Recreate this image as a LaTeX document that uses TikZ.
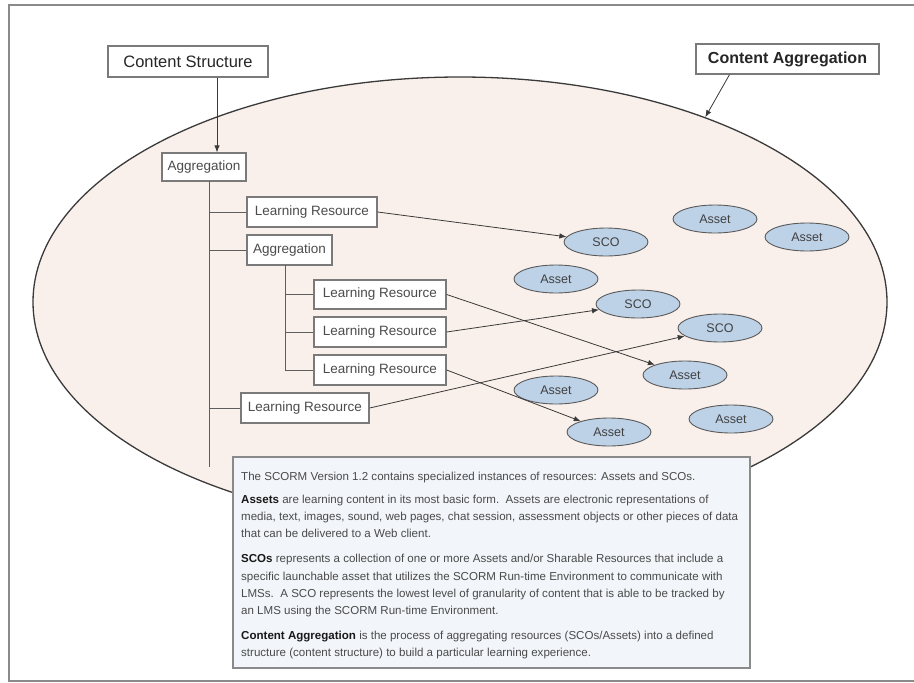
\documentclass[tikz,border=0pt]{standalone}
\usepackage{fontspec}
\setmainfont{Liberation Sans}
\usetikzlibrary{shapes.geometric,arrows.meta}
\definecolor{framegray}{HTML}{8A8A8A}
\definecolor{blobfill}{HTML}{FAF0EB}
\definecolor{blobline}{HTML}{3A3A3A}
\definecolor{assetfill}{HTML}{BDD1E7}
\definecolor{assetline}{HTML}{5A5A5A}
\definecolor{boxline}{HTML}{7A7A7A}
\definecolor{treeline}{HTML}{5E5E5E}
\definecolor{notefill}{HTML}{F2F5F9}
\definecolor{notetext}{HTML}{4A4A4A}
\tikzset{
  hdr/.style={draw=boxline, line width=1.3pt, fill=white, inner sep=0pt, text=black!85,
    font=\fontsize{16.5}{18}\selectfont},
  itembox/.style={draw=boxline, line width=1.3pt, fill=white, inner sep=0pt, text=black!70,
    minimum height=30pt, font=\fontsize{13.5}{15}\selectfont},
  blob/.style={ellipse, draw=assetline, line width=0.9pt, fill=assetfill, inner sep=0pt,
    minimum width=84pt, minimum height=28pt, text=black!75, font=\fontsize{12.5}{14}\selectfont},
  tree/.style={draw=treeline, line width=1pt},
  link/.style={draw=blobline, line width=0.8pt, -{Latex[length=7pt,width=5.5pt]}},
}
\begin{document}
\begin{tikzpicture}[x=1pt,y=-1pt]
\useasboundingbox (0,0) rectangle (914,683);
% frame
\draw[framegray, line width=2pt] (914,5) -- (9,5) -- (9,681) -- (914,681);
% big content aggregation ellipse
\node[ellipse, draw=blobline, line width=1.3pt, fill=blobfill, inner sep=0pt,
      minimum width=854pt, minimum height=450pt] (cagg) at (460,302) {};
% header boxes
\node[hdr, minimum width=160pt, minimum height=31pt] (cs) at (188,61.5) {Content Structure};
\node[hdr, minimum width=183pt, minimum height=30pt, font=\fontsize{16}{18}\selectfont\bfseries] (cabox) at (787.5,59) {Content Aggregation};
% structure boxes
\node[itembox, minimum width=84pt, minimum height=28pt] (agg) at (204,167) {Aggregation};
\node[itembox, minimum width=130pt] (lr1) at (312,212) {Learning Resource};
\node[itembox, minimum width=85pt] (agg2) at (289.5,250) {Aggregation};
\node[itembox, minimum width=132pt, minimum height=29pt] (lr2a) at (380,294.5) {Learning Resource};
\node[itembox, minimum width=132pt] (lr2b) at (380,332) {Learning Resource};
\node[itembox, minimum width=132pt] (lr2c) at (380,370) {Learning Resource};
\node[itembox, minimum width=128pt] (lr3) at (305,408) {Learning Resource};
% tree lines
\coordinate (tr) at (209,181);
\coordinate (trend) at (209,467);
\coordinate (st) at (285,265);
\draw[tree] (tr) -- (trend);
\draw[tree] (tr |- lr1.west) -- (lr1.west);
\draw[tree] (tr |- agg2.west) -- (agg2.west);
\draw[tree] (tr |- lr3.west) -- (lr3.west);
\draw[tree] (st) |- (lr2c.west);
\draw[tree] (st |- lr2a.west) -- (lr2a.west);
\draw[tree] (st |- lr2b.west) -- (lr2b.west);
% resource ellipses
\node[blob] (a1) at (715,219) {Asset};
\node[blob] (a2) at (807,237) {Asset};
\node[blob] (sco1) at (606,242) {SCO};
\node[blob] (a3) at (556,279) {Asset};
\node[blob] (sco2) at (638,304) {SCO};
\node[blob] (sco3) at (720,328) {SCO};
\node[blob] (a4) at (685,375) {Asset};
\node[blob] (a5) at (556,390) {Asset};
\node[blob] (a6) at (731,419) {Asset};
\node[blob] (a7) at (609,432) {Asset};
% header arrows
\draw[link] ([xshift=29pt]cs.south) -- ([xshift=13pt]agg.north);
\draw[link] ([xshift=-58pt]cabox.south) -- (cagg.37);
% resource links
\draw[link] (lr1.east) -- (sco1);
\draw[link] (lr2a.east) -- (a4);
\draw[link] (lr2b.east) -- (sco2);
\draw[link] (lr2c.east) -- (a7);
\draw[link] (lr3.east) -- (sco3);
% note box
\node[draw=framegray, line width=1.5pt, fill=notefill, minimum width=517pt, minimum height=211pt,
      inner sep=0pt] (note) at (491.5,562.5) {};
\node[anchor=north west, inner sep=0pt, align=left, text=notetext,
      font=\fontsize{11.55}{17.2}\selectfont] (notetxt) at (241,471.5)
{The SCORM Version 1.2 contains specialized instances of resources: Assets and SCOs.\\[6.3pt]
\textcolor{black!90}{\textbf{Assets}} are learning content in its most basic form.\ \ Assets are electronic representations of\\
media, text, images, sound, web pages, chat session, assessment objects or other pieces of data\\
that can be delivered to a Web client.\\[7.8pt]
\textcolor{black!90}{\textbf{SCOs}} represents a collection of one or more Assets and/or Sharable Resources that include a\\
specific launchable asset that utilizes the SCORM Run-time Environment to communicate with\\
LMSs.\ \ A SCO represents the lowest level of granularity of content that is able to be tracked by\\
an LMS using the SCORM Run-time Environment.\\[7.3pt]
\textcolor{black!90}{\textbf{Content Aggregation}} is the process of aggregating resources (SCOs/Assets) into a defined\\
structure (content structure) to build a particular learning experience.};
\end{tikzpicture}
\end{document}
